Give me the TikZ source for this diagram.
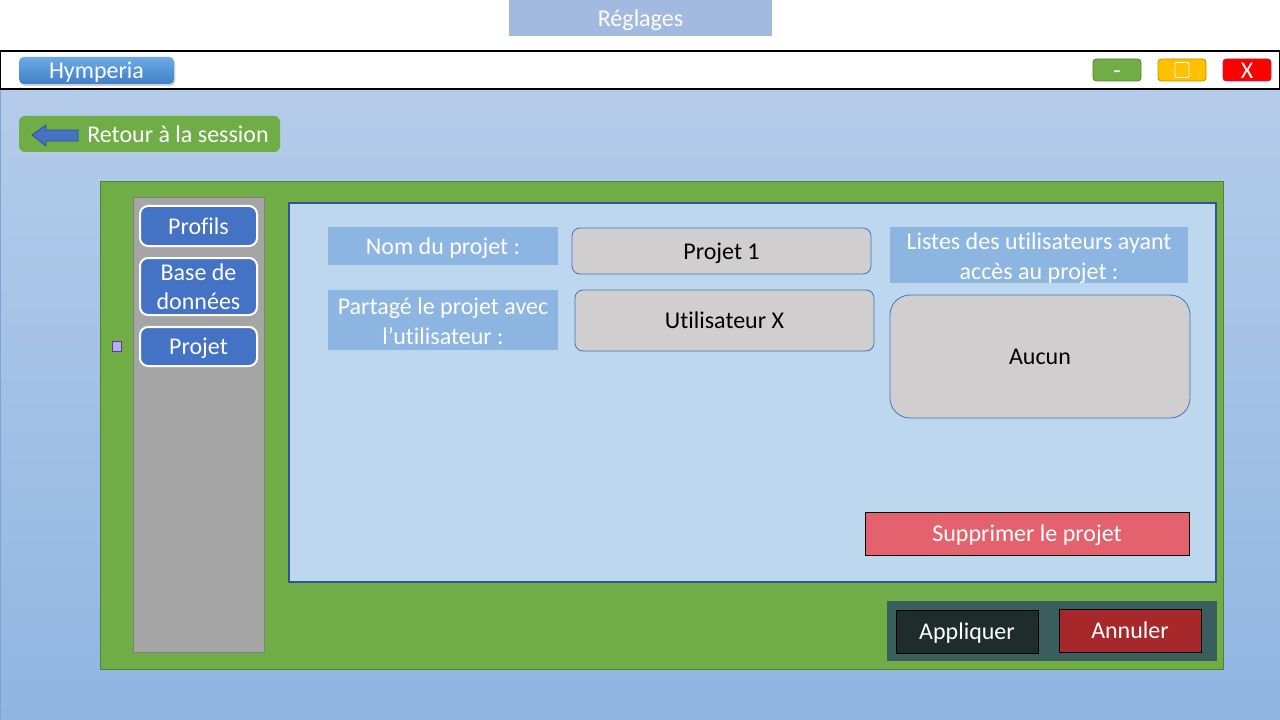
\documentclass[tikz,border=0pt]{standalone}
\usepackage{fontspec}
\setmainfont{Carlito}[Ligatures={NoCommon}]
\usetikzlibrary{fit,shadows}
\definecolor{bgtop}{HTML}{B4CCE9}
\definecolor{bgbot}{HTML}{90B5E3}
\definecolor{titlebg}{HTML}{A3BAE0}
\definecolor{hymtop}{HTML}{6DAAE4}
\definecolor{hymbot}{HTML}{3F80C8}
\definecolor{okgreen}{HTML}{70AD47}
\definecolor{okgreend}{HTML}{548235}
\definecolor{yel}{HTML}{FFC000}
\definecolor{yeld}{HTML}{BF9000}
\definecolor{redb}{HTML}{FF0000}
\definecolor{redd}{HTML}{9E2A4A}
\definecolor{sidegray}{HTML}{A5A5A5}
\definecolor{sidegrayd}{HTML}{808080}
\definecolor{btnblue}{HTML}{4472C4}
\definecolor{btnblued}{HTML}{2F528F}
\definecolor{panelbg}{HTML}{BDD7EE}
\definecolor{panelbd}{HTML}{2F5597}
\definecolor{labelbg}{HTML}{8DB5E2}
\definecolor{fieldbg}{HTML}{D0CECE}
\definecolor{delred}{HTML}{E3626E}
\definecolor{barbg}{HTML}{3A5E5E}
\definecolor{applybg}{HTML}{1E2C2C}
\definecolor{cancelbg}{HTML}{A6282B}
\definecolor{lav}{HTML}{B0B4EC}
\definecolor{lavd}{HTML}{7030A0}
\tikzset{
  box/.style={inner sep=0pt, outer sep=0pt},
  txt/.style={font=\fontsize{18}{22}\selectfont, inner sep=0pt},
  wtext/.style={txt, text=white, text height=12.7pt, text depth=0pt},
  btext/.style={txt, text=black, text height=12.7pt, text depth=0pt},
  wmulti/.style={txt, text=white, align=center},
  sidebtn/.style={box, fill=btnblue, draw=white, line width=1.5pt, rounded corners=6pt},
  lbl/.style={box, fill=labelbg},
  field/.style={box, fill=fieldbg, draw=btnblue, line width=0.6pt, rounded corners=6pt},
  winbtn/.style={box, line width=0.6pt, rounded corners=2.5pt},
  darkbtn/.style={box, draw=black, line width=0.6pt}
}
\begin{document}
\begin{tikzpicture}[x=0.75pt,y=-0.75pt]
\useasboundingbox (0,0) rectangle (1280,720);
% page background
\fill[white] (0,0) rectangle (1280,720);
\shade[top color=bgtop, bottom color=bgbot] (0,89) rectangle (1280,720);
\draw[color=hymbot!70, line width=1pt] (0.5,89) -- (0.5,720);
% title
\node[box, fill=titlebg, fit={(509,0) (772,36)}] (title) {};
\node[wtext] at (title.center) {Réglages};
% top bar
\node[box, fill=white, draw=black, line width=0.9pt, fit={(0,51) (1280,89)}] (topbar) {};
\node[box, rounded corners=3.5pt, top color=hymtop, bottom color=hymbot,
      drop shadow={shadow xshift=1pt, shadow yshift=-1.5pt, opacity=0.35},
      fit={(19,57) (174,84)}] (hym) {};
\node[wtext] at (hym.center) {Hymperia};
\node[winbtn, fill=okgreen, draw=okgreend, fit={(1093,59) (1141,81)}] (minb) {};
\node[wtext] at (minb.center) {-};
\node[winbtn, fill=yel, draw=yeld, fit={(1158,59) (1206,81)}] (maxb) {};
\draw[white, line width=0.7pt, rounded corners=1.5pt] (1175,62.5) rectangle (1189,77.5);
\node[winbtn, fill=redb, draw=redd, fit={(1223,59) (1271,81)}] (closeb) {};
\node[wtext] at (closeb.center) {X};
% back button
\node[box, fill=okgreen, rounded corners=4.5pt, fit={(19,116) (280,152)}] (back) {};
\node[wtext, anchor=west] (backtxt) at (87,134.5) {Retour à la session};
\draw[fill=btnblue, draw=btnblued, line width=0.6pt]
  (32,135) -- (46,125) -- (46,130) -- (78,130) -- (78,141) -- (46,141) -- (46,146) -- cycle;
% main green panel
\node[box, fill=okgreen, draw=okgreend, line width=0.6pt, fit={(100,181) (1223,669)}] (main) {};
% sidebar
\node[box, fill=sidegray, draw=sidegrayd, line width=0.6pt, fit={(133,197) (264,652)}] (side) {};
\node[sidebtn, fit={(140,206) (257,246)}] (profils) {};
\node[wtext] at (profils.center) {Profils};
\node[sidebtn, fit={(140,258) (257,315)}] (bdd) {};
\node[wmulti] at (bdd.center) {Base de\\données};
\node[sidebtn, fit={(140,327) (257,366)}] (projet) {};
\node[wtext] at (projet.center) {Projet};
\node[box, fill=lav, draw=lavd, line width=0.5pt, fit={(112,341) (121,351)}] (marker) {};
% content panel
\node[box, fill=panelbg, draw=panelbd, line width=2.2pt, fit={(289,203) (1216,582)}] (content) {};
\node[lbl, fit={(328,227) (558,265)}] (nomlbl) {};
\node[wtext] at (nomlbl.center) {Nom du projet :};
\node[field, fit={(572,228) (871,274)}] (nomfld) {};
\node[btext] at (nomfld.center) {Projet 1};
\node[lbl, fit={(328,290) (558,350)}] (partlbl) {};
\node[wmulti, yshift=-1pt] at (partlbl.center) {Partagé le projet avec\\l’utilisateur :};
\node[field, fit={(575,290) (874,351)}] (partfld) {};
\node[btext] at (partfld.center) {Utilisateur X};
\node[lbl, fit={(890,227) (1188,283)}] (listlbl) {};
\node[wmulti, yshift=-2.4pt] at (listlbl.center) {Listes des utilisateurs ayant\\accès au projet :};
\node[field, rounded corners=15pt, fit={(890,295) (1190,418)}] (listfld) {};
\node[btext] at (listfld.center) {Aucun};
\node[darkbtn, fill=delred, fit={(865,512) (1189,555)}] (del) {};
\node[wtext] at (del.center) {Supprimer le projet};
% bottom bar
\node[box, fill=barbg, fit={(887,601) (1217,661)}] (bar) {};
\node[darkbtn, fill=applybg, fit={(896,610) (1038,653)}] (apply) {};
\node[wtext] at (apply.center) {Appliquer};
\node[darkbtn, fill=cancelbg, fit={(1059,609) (1201,652)}] (cancel) {};
\node[wtext] at (cancel.center) {Annuler};
\end{tikzpicture}
\end{document}
